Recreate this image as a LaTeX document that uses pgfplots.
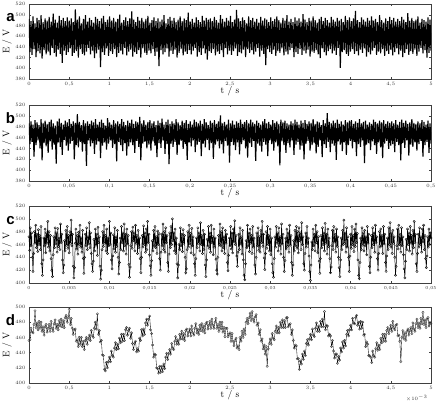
\documentclass[border=0pt]{standalone}
\usepackage{pgfplots}
\pgfplotsset{compat=1.18}
\usepackage{fontspec}
\newfontfamily\arial{Liberation Sans}
\pgfplotsset{
  panel/.style={
    scale only axis, width=402pt, anchor=south west,
    clip mode=individual,
    axis line style={black!75, line width=0.4pt},
    tick style={black!75, line width=0.3pt},
    tick align=inside, major tick length=2pt,
    xtick pos=both, ytick pos=both,
    tick label style={font=\fontsize{4.5}{5}\selectfont, text=black!80},
    /pgf/number format/fixed,
    /pgf/number format/use comma,
    scaled ticks=false,
    xlabel={t / s}, ylabel={E / V},
    every axis x label/.style={at={(axis description cs:0.5,0)}, anchor=center, inner sep=0pt, yshift=-12.5pt, font=\fontsize{9.5}{11}\selectfont},
    every axis y label/.style={at={(axis description cs:-0.055,0.5)}, rotate=90, anchor=center, inner sep=0pt, font=\fontsize{9.5}{11}\selectfont},
  },
}
\tikzset{letter/.style={anchor=base, inner sep=0pt, font=\arial\bfseries\fontsize{15}{16}\selectfont}}
\begin{document}
\begin{tikzpicture}
\useasboundingbox (0pt,0pt) rectangle (438pt,404pt);

% ---- a ----
\begin{axis}[panel, at={(29pt,325pt)}, height=75pt,
  xmin=0, xmax=5, ymin=380, ymax=520,
  xtick={0,0.5,1,1.5,2,2.5,3,3.5,4,4.5,5},
  ytick={380,400,420,440,460,480,500,520}]
\addplot[black, line width=1.15pt, mark=none] table[row sep=\\, header=false, x expr=\coordindex*5/399, y index=0] {
492\\430\\488\\425\\497\\436\\484\\421\\494\\432\\490\\428\\499\\418\\486\\434\\493\\426\\489\\431\\
496\\424\\487\\438\\502\\429\\491\\422\\485\\435\\498\\427\\490\\410\\494\\433\\488\\425\\495\\430\\
489\\437\\493\\423\\486\\429\\510\\432\\491\\420\\497\\436\\484\\427\\492\\424\\499\\431\\487\\438\\
494\\426\\490\\433\\485\\419\\496\\428\\492\\435\\488\\402\\493\\430\\498\\425\\486\\437\\491\\423\\
497\\432\\489\\427\\494\\436\\487\\421\\492\\429\\500\\433\\485\\426\\490\\438\\495\\424\\488\\431\\
493\\435\\506\\422\\491\\430\\486\\427\\496\\434\\489\\420\\494\\437\\487\\429\\492\\425\\498\\433\\
485\\428\\490\\436\\495\\423\\488\\431\\493\\404\\487\\434\\491\\426\\499\\430\\484\\437\\492\\422\\
496\\433\\489\\427\\494\\435\\486\\420\\491\\429\\497\\436\\488\\424\\493\\431\\490\\427\\504\\434\\
487\\426\\492\\433\\485\\438\\495\\422\\490\\430\\486\\425\\498\\437\\489\\428\\494\\416\\491\\432\\
493\\429\\488\\436\\496\\424\\490\\431\\485\\427\\499\\434\\492\\421\\487\\438\\494\\426\\489\\433\\
498\\425\\486\\432\\491\\437\\509\\423\\493\\430\\488\\428\\495\\435\\490\\421\\484\\436\\497\\429\\
490\\434\\494\\426\\487\\431\\492\\438\\485\\422\\496\\433\\489\\427\\493\\406\\491\\436\\486\\430\\
495\\427\\488\\435\\492\\423\\497\\432\\490\\429\\485\\437\\494\\424\\489\\431\\499\\426\\487\\434\\
492\\438\\486\\421\\495\\430\\489\\427\\493\\436\\487\\425\\501\\433\\491\\428\\486\\435\\494\\422\\
489\\431\\497\\429\\490\\434\\485\\426\\492\\419\\496\\437\\488\\430\\494\\424\\490\\432\\485\\436\\
496\\428\\491\\433\\487\\425\\494\\438\\489\\401\\492\\430\\486\\434\\498\\427\\490\\423\\495\\431\\
488\\436\\493\\427\\507\\432\\490\\424\\486\\435\\495\\429\\491\\437\\487\\422\\494\\430\\489\\426\\
497\\433\\489\\438\\492\\425\\486\\431\\499\\428\\490\\436\\485\\423\\493\\432\\488\\427\\496\\435\\
490\\424\\494\\430\\487\\437\\492\\426\\488\\433\\496\\421\\491\\429\\486\\436\\503\\425\\489\\432\\
494\\427\\488\\435\\491\\423\\497\\431\\485\\438\\492\\428\\490\\434\\487\\420\\495\\429\\491\\433\\
};
\node[letter] at (axis description cs:-0.046,0.76) {a};
\end{axis}

% ---- b ----
\begin{axis}[panel, at={(29pt,223pt)}, height=76pt,
  xmin=0, xmax=0.5, ymin=380, ymax=520,
  xtick={0,0.05,0.1,0.15,0.2,0.25,0.3,0.35,0.4,0.45,0.5},
  ytick={380,400,420,440,460,480,500,520}]
\addplot[black, line width=1.15pt, mark=none] table[row sep=\\, header=false, x expr=\coordindex*0.5/399, y index=0] {
486\\448\\490\\452\\484\\425\\492\\446\\488\\455\\483\\440\\494\\418\\487\\450\\491\\444\\485\\432\\
489\\453\\493\\438\\486\\447\\482\\412\\490\\451\\495\\443\\487\\428\\484\\456\\491\\445\\488\\436\\
494\\449\\485\\454\\490\\420\\487\\446\\503\\442\\489\\452\\483\\434\\492\\448\\486\\408\\490\\455\\
485\\444\\491\\450\\488\\430\\494\\447\\484\\453\\489\\422\\493\\445\\487\\451\\482\\438\\496\\449\\
488\\455\\484\\441\\492\\448\\486\\416\\490\\452\\485\\446\\494\\435\\489\\450\\483\\427\\491\\444\\
487\\451\\493\\446\\485\\432\\490\\454\\488\\443\\498\\418\\486\\449\\492\\452\\484\\440\\489\\447\\
492\\436\\486\\453\\490\\445\\483\\424\\491\\450\\487\\441\\495\\455\\484\\430\\489\\448\\493\\411\\
485\\449\\490\\443\\486\\452\\494\\428\\488\\446\\483\\454\\491\\439\\487\\448\\492\\419\\485\\451\\
490\\444\\484\\455\\493\\433\\489\\447\\486\\452\\491\\426\\485\\449\\494\\442\\488\\456\\483\\437\\
491\\450\\487\\421\\492\\447\\485\\453\\490\\440\\501\\448\\486\\431\\489\\454\\484\\445\\493\\414\\
486\\452\\491\\446\\484\\437\\490\\451\\487\\429\\493\\448\\485\\455\\489\\440\\492\\423\\486\\450\\
493\\443\\488\\454\\485\\417\\491\\449\\487\\445\\484\\434\\490\\452\\494\\447\\486\\426\\489\\455\\
484\\448\\492\\436\\487\\451\\490\\444\\485\\409\\493\\453\\488\\446\\491\\432\\486\\450\\484\\442\\
490\\455\\486\\428\\493\\447\\489\\452\\484\\438\\491\\445\\487\\420\\492\\449\\485\\454\\490\\436\\
487\\446\\494\\450\\485\\431\\490\\443\\488\\455\\483\\424\\492\\448\\486\\441\\505\\452\\489\\433\\
486\\449\\491\\445\\487\\419\\493\\453\\485\\447\\490\\435\\484\\451\\492\\428\\488\\446\\491\\454\\
492\\440\\485\\452\\490\\426\\487\\448\\494\\443\\486\\455\\489\\413\\491\\447\\484\\450\\488\\437\\
485\\453\\493\\446\\489\\430\\486\\451\\491\\442\\488\\422\\492\\449\\485\\454\\490\\439\\487\\445\\
490\\448\\486\\433\\492\\452\\484\\446\\489\\418\\493\\450\\487\\441\\491\\455\\485\\427\\488\\447\\
494\\443\\487\\451\\485\\436\\490\\448\\486\\454\\492\\425\\489\\446\\484\\452\\491\\432\\486\\449\\
};
\node[letter] at (axis description cs:-0.046,0.76) {b};
\end{axis}

% ---- c ----
\begin{axis}[panel, at={(29pt,121pt)}, height=77pt,
  xmin=0, xmax=0.05, ymin=400, ymax=520,
  xtick={0,0.005,0.01,0.015,0.02,0.025,0.03,0.035,0.04,0.045,0.05},
  xticklabels={0,{0,005},{0,01},{0,015},{0,02},{0,025},{0,03},{0,035},{0,04},{0,045},{0,05}},
  ytick={400,420,440,460,480,500,520}]
\addplot[black, line width=0.5pt, mark=o, mark size=1.15pt, mark options={black, line width=0.35pt}] table[row sep=\\, header=false, x expr=\coordindex*0.05/600, y index=0] {
472\\451\\486\\458\\478\\440\\418\\446\\480\\462\\
490\\455\\476\\449\\483\\460\\474\\452\\488\\430\\
412\\436\\470\\458\\484\\447\\478\\462\\496\\456\\
480\\450\\474\\438\\420\\410\\444\\472\\455\\486\\
461\\478\\448\\485\\457\\470\\452\\492\\463\\476\\
436\\416\\428\\466\\450\\482\\459\\488\\454\\474\\
447\\480\\462\\498\\458\\476\\426\\408\\424\\462\\
484\\453\\474\\445\\479\\460\\490\\456\\470\\448\\
482\\438\\415\\440\\476\\458\\486\\452\\472\\461\\
494\\455\\478\\446\\430\\418\\434\\468\\450\\484\\
459\\476\\443\\487\\463\\472\\426\\406\\420\\452\\
480\\457\\490\\462\\474\\450\\484\\446\\470\\458\\
496\\460\\478\\436\\422\\442\\475\\453\\486\\448\\
472\\457\\482\\440\\414\\432\\470\\452\\488\\463\\
478\\450\\492\\458\\476\\445\\484\\461\\474\\429\\
409\\425\\458\\480\\454\\487\\466\\478\\450\\490\\
462\\474\\446\\482\\455\\470\\438\\416\\440\\474\\
456\\489\\460\\478\\448\\484\\452\\496\\463\\476\\
444\\427\\412\\435\\466\\450\\482\\458\\488\\455\\
472\\446\\481\\460\\477\\438\\420\\448\\476\\458\\
492\\452\\480\\448\\486\\463\\474\\432\\418\\445\\
478\\455\\488\\460\\500\\466\\478\\450\\484\\446\\
470\\430\\408\\428\\460\\452\\486\\458\\476\\449\\
483\\462\\474\\440\\416\\422\\452\\480\\456\\490\\
461\\477\\447\\485\\458\\472\\444\\430\\412\\438\\
470\\455\\486\\462\\478\\450\\494\\460\\474\\446\\
482\\452\\476\\428\\410\\436\\468\\458\\488\\454\\
478\\448\\490\\463\\472\\444\\484\\456\\470\\437\\
420\\414\\440\\474\\460\\492\\458\\480\\450\\486\\
455\\472\\446\\482\\462\\476\\432\\419\\443\\470\\
458\\488\\453\\478\\447\\484\\464\\497\\460\\474\\
442\\426\\448\\476\\452\\486\\461\\472\\445\\482\\
436\\412\\405\\430\\466\\455\\490\\458\\478\\449\\
484\\462\\474\\446\\488\\456\\470\\428\\414\\440\\
478\\458\\486\\451\\472\\448\\482\\463\\496\\457\\
476\\439\\421\\446\\480\\454\\488\\460\\474\\450\\
484\\444\\470\\430\\416\\409\\438\\472\\456\\488\\
462\\478\\450\\486\\458\\472\\445\\492\\461\\476\\
440\\418\\435\\470\\453\\484\\457\\478\\448\\490\\
459\\474\\432\\412\\428\\466\\450\\482\\458\\488\\
454\\480\\447\\486\\466\\478\\452\\494\\460\\472\\
430\\420\\446\\478\\456\\488\\461\\470\\442\\418\\
404\\428\\464\\452\\484\\458\\476\\450\\490\\463\\
480\\447\\472\\434\\415\\438\\474\\455\\486\\460\\
478\\450\\493\\462\\476\\445\\484\\457\\470\\438\\
416\\425\\458\\482\\452\\488\\464\\476\\448\\484\\
457\\472\\440\\424\\410\\436\\470\\452\\482\\460\\
498\\462\\478\\448\\486\\456\\472\\440\\418\\442\\
476\\454\\488\\460\\474\\449\\484\\457\\492\\463\\
477\\436\\412\\407\\432\\470\\452\\486\\459\\478\\
450\\482\\458\\472\\444\\488\\462\\476\\426\\416\\
440\\474\\455\\486\\460\\478\\448\\490\\463\\472\\
438\\420\\446\\480\\456\\484\\458\\474\\446\\488\\
461\\476\\432\\418\\442\\470\\452\\486\\460\\494\\
456\\478\\446\\482\\462\\472\\440\\412\\426\\458\\
484\\453\\490\\460\\476\\448\\486\\458\\472\\444\\
422\\408\\434\\468\\452\\484\\460\\478\\450\\488\\
462\\474\\445\\482\\455\\496\\463\\476\\430\\418\\
446\\476\\456\\486\\460\\472\\448\\484\\464\\490\\
452\\474\\438\\424\\442\\472\\456\\484\\460\\478\\
470\\
};
\node[letter] at (axis description cs:-0.046,0.76) {c};
\end{axis}

% ---- d ----
\begin{axis}[panel, at={(29pt,21pt)}, height=76pt,
  xmin=0, xmax=5, ymin=400, ymax=500,
  xtick={0,0.5,1,1.5,2,2.5,3,3.5,4,4.5,5},
  ytick={400,420,440,460,480,500}]
\addplot[black, line width=0.35pt, mark=o, mark size=1.2pt, mark options={black!80, line width=0.3pt}] table[row sep=\\, header=false, x expr=\coordindex*0.0125, y index=0] {
456\\457\\472\\467\\466\\477\\495\\473\\479\\470\\481\\472\\480\\468\\474\\463\\474\\477\\467\\472\\
477\\468\\481\\472\\468\\478\\483\\472\\477\\470\\482\\475\\484\\474\\482\\473\\486\\489\\480\\486\\
497\\477\\485\\472\\464\\470\\471\\455\\457\\448\\460\\451\\460\\448\\455\\444\\456\\460\\451\\458\\
463\\456\\469\\462\\460\\472\\480\\471\\491\\464\\469\\454\\456\\437\\436\\418\\416\\427\\420\\428\\
434\\428\\442\\436\\434\\446\\453\\444\\451\\445\\459\\453\\464\\455\\464\\456\\470\\473\\463\\469\\
472\\459\\466\\452\\444\\452\\455\\441\\445\\442\\459\\456\\470\\462\\471\\464\\479\\484\\476\\484\\
488\\470\\465\\450\\434\\438\\437\\420\\419\\413\\422\\414\\422\\415\\425\\419\\434\\439\\431\\439\\
444\\438\\452\\446\\444\\455\\461\\451\\457\\451\\464\\458\\468\\458\\465\\456\\469\\471\\462\\467\\
471\\462\\475\\466\\463\\472\\478\\466\\471\\464\\476\\469\\478\\468\\475\\466\\478\\480\\471\\476\\
481\\472\\484\\476\\472\\480\\485\\472\\477\\468\\480\\471\\480\\467\\473\\461\\472\\472\\461\\464\\
466\\455\\465\\455\\449\\456\\459\\446\\449\\444\\460\\455\\468\\460\\471\\464\\480\\485\\478\\486\\
492\\482\\494\\484\\480\\487\\490\\476\\479\\464\\470\\455\\458\\445\\450\\438\\448\\422\\445\\452\\
458\\451\\465\\459\\457\\468\\475\\466\\473\\466\\480\\473\\483\\473\\482\\473\\486\\486\\474\\477\\
478\\464\\470\\456\\446\\450\\449\\432\\432\\418\\429\\425\\438\\431\\442\\436\\452\\457\\450\\458\\
464\\457\\471\\463\\461\\472\\479\\468\\475\\468\\481\\474\\484\\474\\494\\470\\476\\475\\462\\464\\
462\\448\\456\\442\\433\\438\\438\\426\\435\\430\\446\\441\\454\\446\\456\\449\\464\\469\\462\\470\\
476\\470\\485\\479\\478\\486\\489\\476\\480\\471\\481\\472\\480\\463\\464\\448\\454\\451\\436\\436\\
434\\427\\442\\436\\434\\445\\453\\443\\450\\444\\459\\453\\464\\455\\464\\455\\469\\473\\465\\471\\
476\\468\\481\\473\\470\\476\\477\\462\\463\\455\\428\\460\\469\\458\\466\\456\\468\\471\\463\\469\\
473\\465\\479\\471\\468\\478\\484\\473\\479\\472\\485\\478\\493\\477\\483\\473\\484\\486\\475\\480\\
478\\
};
\node[letter] at (axis description cs:-0.046,0.76) {d};
\node[anchor=north east, font=\fontsize{4.5}{5}\selectfont, text=black!80] at (axis description cs:1,0) [yshift=-9pt] {$\times 10^{-3}$};
\end{axis}
\end{tikzpicture}
\end{document}
